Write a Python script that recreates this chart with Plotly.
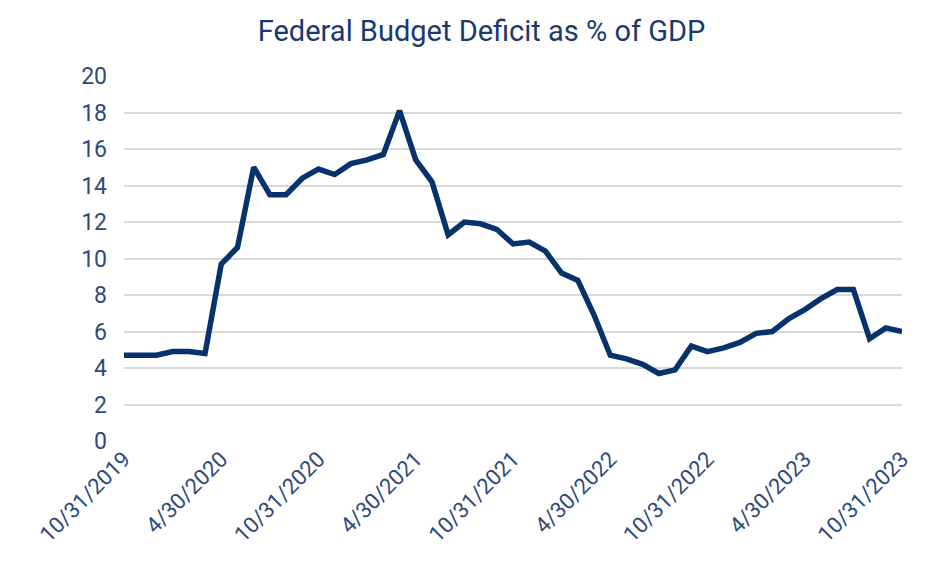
import plotly.graph_objects as go
import pandas as pd

dates = pd.date_range("2019-10-31", periods=49, freq="ME")
date_labels = [f"{d.month}/{d.day}/{d.year}" for d in dates]

deficit_pct = [4.7, 4.7, 4.7, 4.9, 4.9, 4.8, 9.7, 10.6, 15.0, 13.5,
               13.5, 14.4, 14.9, 14.6, 15.2, 15.4, 15.7, 18.1, 15.4, 14.2,
               11.3, 12.0, 11.9, 11.6, 10.8, 10.9, 10.4, 9.2, 8.8, 6.9,
               4.7, 4.5, 4.2, 3.7, 3.9, 5.2, 4.9, 5.1, 5.4, 5.9,
               6.0, 6.7, 7.2, 7.8, 8.3, 8.3, 5.6, 6.2, 6.0]

tick_labels = date_labels[::6]
y_ticks = list(range(0, 21, 2))

font_family = "Roboto, sans-serif"

fig = go.Figure()
fig.add_trace(go.Scatter(
    x=date_labels, y=deficit_pct, mode="lines",
    line=dict(color="#06336b", width=5.5, shape="linear"),
    hoverinfo="x+y",
))

fig.update_layout(
    width=935, height=574,
    margin=dict(l=124, r=33, t=76, b=133),
    paper_bgcolor="white", plot_bgcolor="white",
    showlegend=False,
    title=dict(text="Federal Budget Deficit as % of GDP", x=0.515, xanchor="center",
               y=0.946, yanchor="middle",
               font=dict(family=font_family, size=29, color="#1a3a6e")),
    font=dict(family=font_family, color="#2d4a7a"),
)
fig.update_xaxes(
    type="category", range=[0, 48],
    tickmode="array", tickvals=tick_labels, ticktext=tick_labels,
    tickangle=-45, tickfont=dict(size=22, color="#2d4a7a"),
    showgrid=False, showline=False, ticks="", zeroline=False,
)
fig.update_yaxes(
    range=[0, 20], tickmode="array", tickvals=y_ticks,
    tickfont=dict(size=23, color="#2d4a7a"),
    showgrid=True, gridcolor="#d9d9d9", gridwidth=2,
    zeroline=False, showline=False, ticks="", ticklabelstandoff=16,
)

fig.write_html("out.html")
